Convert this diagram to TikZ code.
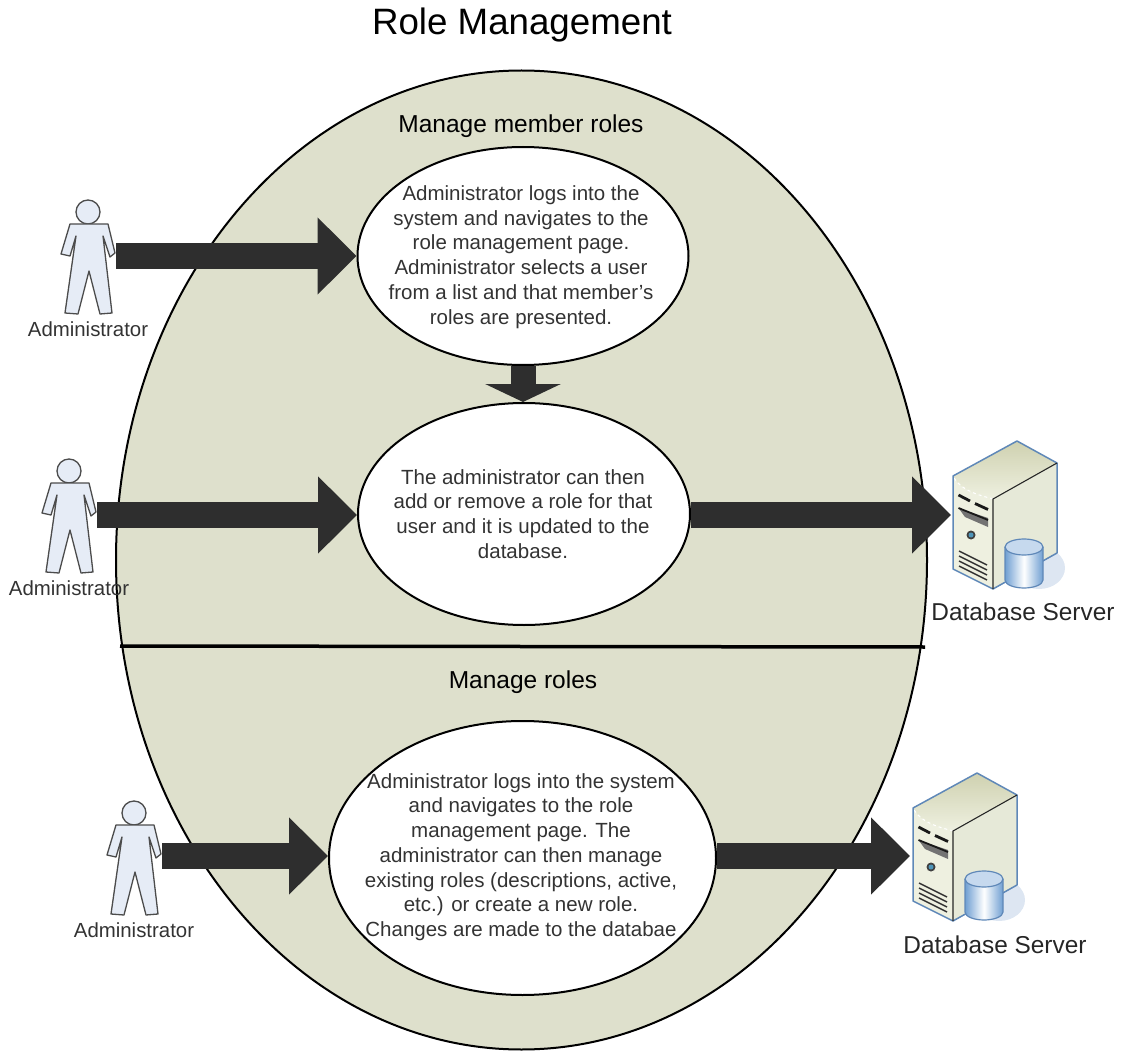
\documentclass[tikz,border=0pt]{standalone}
\usepackage{fontspec}
\setmainfont{Liberation Sans}
\usetikzlibrary{arrows.meta,shapes.geometric}
\definecolor{PaleOlive}{HTML}{DEE0CC}
\definecolor{ArrowDark}{HTML}{2E2E2E}
\definecolor{FigureBlue}{HTML}{E6ECF6}
\definecolor{CaseTop}{HTML}{CFD1B0}
\definecolor{CaseFront}{HTML}{EEF0E0}
\definecolor{CaseSide}{HTML}{E6E9D8}
\definecolor{CaseEdge}{HTML}{5F88B8}
\definecolor{DiskBlue}{HTML}{6F9FD2}
\definecolor{DiskTop}{HTML}{C6D9EE}
\definecolor{ShadowBlue}{HTML}{DDE6F2}

\tikzset{
  bodytext/.style={align=center, font=\fontsize{20.5}{24.7}\selectfont, text=black!80},
  usecase/.style={ellipse, draw=black, line width=2pt, fill=white, inner sep=0pt},
  bigarrow/.style={draw=ArrowDark, line width=26pt, -{Triangle[length=39pt,width=75pt,fill=ArrowDark]}},
  smallarrow/.style={draw=ArrowDark, line width=25pt, -{Triangle[length=18pt,width=75pt,fill=ArrowDark]}},
  adminfigure/.pic={
    \draw[fill=FigureBlue, draw=black!70, line width=1.3pt] (0,0) circle (12);
    \draw[fill=FigureBlue, draw=black!70, line width=1.3pt, line join=round]
      (-18,12) -- (20,12) -- (27,41) -- (22,45) -- (15,24) -- (24,101) -- (12,102)
      -- (1,59) -- (-10,102) -- (-23,101) -- (-12,24) -- (-18,44) -- (-27,42) -- cycle;
  },
  serverbox/.pic={
    % shadow behind the case
    \fill[ShadowBlue] (22,127) ellipse (26 and 21);
    \fill[CaseSide] (-24,58) -- (40,22) -- (40,112) -- (-24,148) -- cycle;
    \fill[CaseFront] (-64,35) -- (-24,58) -- (-24,148) -- (-64,128) -- cycle;
    \shade[top color=CaseTop, bottom color=CaseFront]
      (0,0) -- (40,22) -- (-24,58) .. controls (-38,54) and (-56,50) .. (-64,35) -- cycle;
    \draw[white, line width=1pt, dashed] (-24,58) .. controls (-38,54) and (-56,50) .. (-64,35);
    \draw[CaseEdge, line width=1.5pt, line join=round]
      (-64,35) -- (0,0) -- (40,22) -- (40,112) -- (-24,148) -- (-64,128) -- cycle;
    \draw[black!85, line width=1.1pt] (40,22) -- (-24,58) -- (-24,148);
    % drive bays
    \draw[black!90, line width=2.8pt] (-58.5,54) -- (-47,60);
    \draw[black!90, line width=2.8pt] (-42,62.5) -- (-29,68.5);
    \fill[black!55] (-58.5,67) -- (-29,77) -- (-29,86) -- (-52,76) -- cycle;
    \draw[black!90, line width=1.8pt] (-58.5,67) -- (-29,79);
    \fill[black!75] (-46,94) circle (4.5);
    \fill[DiskBlue!70!teal] (-46,94) circle (2.5);
    % vents
    \foreach \rowy in {0,5,10,15}
      \draw[black!80, line width=1.4pt] (-58,110+\rowy) -- (-30,124+\rowy);
    % disk
    \shade[left color=DiskBlue, right color=DiskBlue, middle color=white]
      (-12,106) -- (-12,139) arc[start angle=180, end angle=0, x radius=19, y radius=8] -- (26,106) -- cycle;
    \draw[CaseEdge, line width=1.2pt, fill=DiskTop] (7,106) ellipse (19 and 8);
    \draw[CaseEdge, line width=1.2pt] (-12,106) -- (-12,139) arc[start angle=180, end angle=0, x radius=19, y radius=8] -- (26,106);
  },
}

\begin{document}
\begin{tikzpicture}[x=1pt, y=-1pt]
  \useasboundingbox (0,0) rectangle (1128,1051);

  \node (title) at (522,25) {\fontsize{36.7}{40}\selectfont Role Management};

  % big background oval
  \node (roleoval) [ellipse, draw=black, line width=2pt, fill=PaleOlive, inner sep=0pt,
    minimum width=811, minimum height=979] at (521.5,560) {};
  \coordinate (splitleft) at (120,646);
  \coordinate (splitright) at (925,647);
  \draw[black, line width=3.5pt] (splitleft) -- (splitright);

  \node (membertitle) at (521,126) {\fontsize{24.5}{28}\selectfont Manage member roles};
  \node (rolestitle) at (523,682) {\fontsize{24.5}{28}\selectfont Manage roles};

  % use cases
  \node (selectuser) [usecase, minimum width=331, minimum height=218] at (523,256) {};
  \node (updaterole) [usecase, minimum width=332, minimum height=222] at (524,514) {};
  \node (managerole) [usecase, minimum width=387, minimum height=274] at (522.5,858) {};

  \node (selecttext) [bodytext] at (521,257) {Administrator logs into the\\system and navigates to the\\role management page.\\Administrator selects a user\\from a list and that member’s\\roles are presented.};
  \node (updatetext) [bodytext] at (523,514) {The administrator can then\\add or remove a role for that\\user and it is updated to the\\database.};
  \node (managetext) [bodytext] at (521,857) {Administrator logs into the system\\and navigates to the role\\management page.  The\\administrator can then manage\\existing roles (descriptions, active,\\etc.)  or create a new role.\\Changes are made to the databae};

  % actors
  \pic at (88,212) {adminfigure};
  \pic at (69,471) {adminfigure};
  \pic at (134,813) {adminfigure};
  \node (admintop) [font=\fontsize{20.4}{24}\selectfont, text=black!80] at (88,329) {Administrator};
  \node (adminmid) [font=\fontsize{20.4}{24}\selectfont, text=black!80] at (69,588) {Administrator};
  \node (adminlow) [font=\fontsize{20.4}{24}\selectfont, text=black!80] at (134,930) {Administrator};

  % servers
  \pic at (1017,441) {serverbox};
  \pic at (977,773) {serverbox};
  \node (dbmid) [font=\fontsize{24.4}{28}\selectfont, text=black!85] at (1023,612) {Database Server};
  \node (dblow) [font=\fontsize{24.4}{28}\selectfont, text=black!85] at (995,945) {Database Server};

  % arrows
  \coordinate (tailtop) at (116,256);
  \coordinate (tailmid) at (97,515);
  \coordinate (taillow) at (162,856);
  \coordinate (headmid) at (951,515);
  \coordinate (headlow) at (910,856);

  \draw[bigarrow] (tailtop) -- (tailtop -| selectuser.west);
  \draw[bigarrow] (tailmid) -- (tailmid -| updaterole.west);
  \draw[bigarrow] (taillow) -- (taillow -| managerole.west);
  \draw[bigarrow] (updaterole.east |- headmid) -- (headmid);
  \draw[bigarrow] (managerole.east |- headlow) -- (headlow);
  \draw[smallarrow] (selectuser.south) -- (selectuser.south |- updaterole.north);
\end{tikzpicture}
\end{document}
